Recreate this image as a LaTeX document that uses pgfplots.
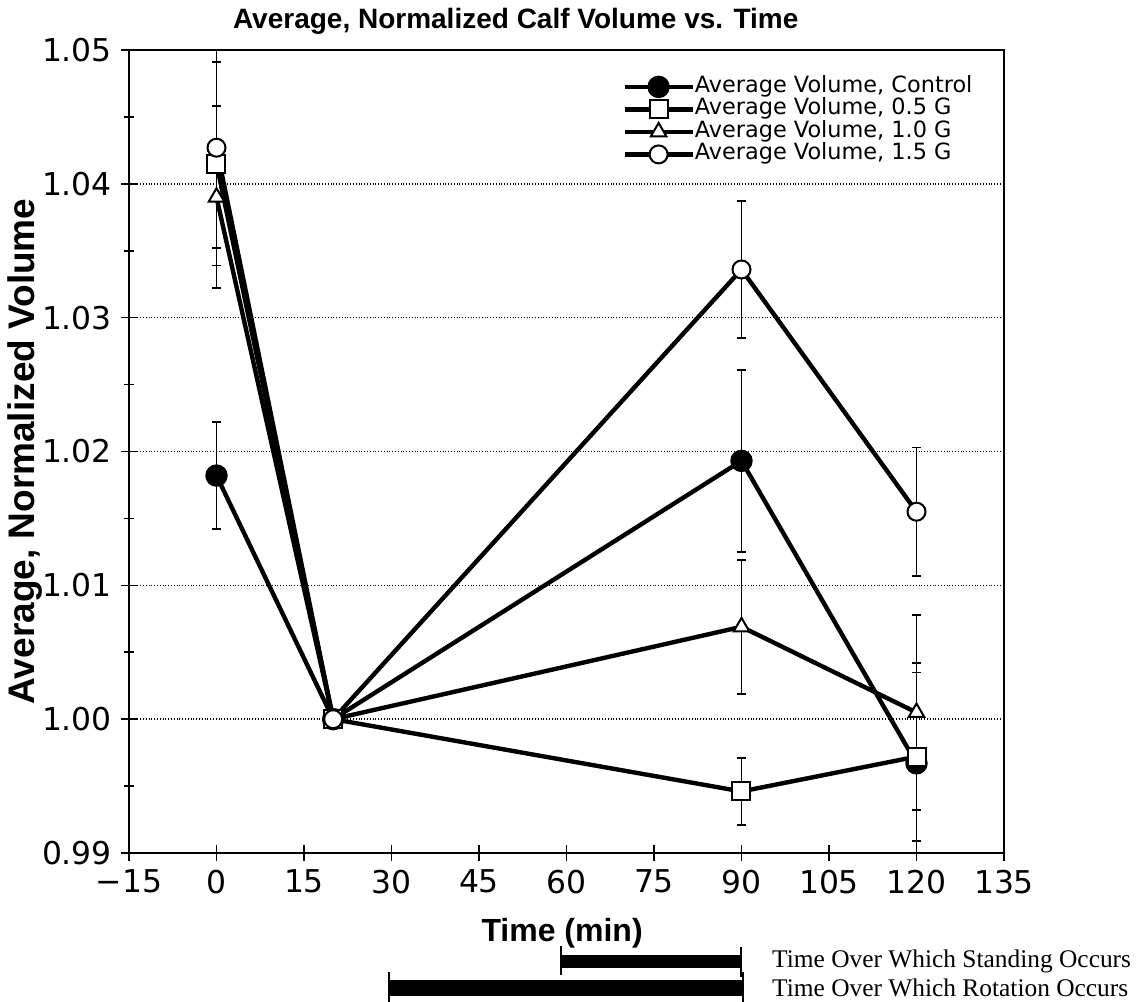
\documentclass[border=0pt]{standalone}
\usepackage{fontspec}
\usepackage{pgfplots}
\pgfplotsset{compat=1.18}
\setmainfont{Liberation Sans}
\newfontfamily\geneva{DejaVu Sans}
\newfontfamily\timesfont{Liberation Serif}

\begin{document}
\begin{tikzpicture}
% page = 1142 x 1002 px at 0.5pt per px, origin at the lower left of the plot area
\useasboundingbox (-64.5pt,-74.5pt) rectangle (506.5pt,426.5pt);
\begin{axis}[
  at={(0,0)}, anchor=south west,
  scale only axis,
  width=437.5pt, height=401.5pt,
  xmin=-15, xmax=135, ymin=0.99, ymax=1.05,
  xtick={-15,0,15,30,45,60,75,90,105,120,135},
  xticklabels={−15,0,15,30,45,60,75,90,105,120,135},
  ytick={0.99,1.00,1.01,1.02,1.03,1.04,1.05},
  yticklabels={0.99,1.00,1.01,1.02,1.03,1.04,1.05},
  minor ytick={0.995,1.005,1.015,1.025,1.035,1.045},
  xtick pos=bottom, ytick pos=left,
  tick align=center,
  major tick length=8pt,
  minor tick length=5pt,
  tick style={line width=0.8pt, black},
  axis line style={line width=1pt},
  ticklabel style={font=\geneva\fontsize{15.7}{18}\selectfont},
  yticklabel style={xshift=-1pt},
  xticklabel style={yshift=-1pt},
  ymajorgrids,
  grid style={densely dotted, line width=0.7pt, black},
  title={Average, Normalized Calf Volume vs. Time},
  title style={at={(axis description cs:0.442,1)}, anchor=center, yshift=8.5pt,
    font=\bfseries\fontsize{14}{16}\selectfont},
  xlabel={Time (min)},
  xlabel style={at={(axis description cs:0.495,0)}, anchor=center, yshift=-40pt,
    font=\bfseries\fontsize{16}{18}\selectfont},
  ylabel={Average, Normalized Volume},
  ylabel style={at={(axis description cs:-0.119,0.5)}, anchor=center,
    font=\bfseries\fontsize{18.5}{20}\selectfont},
  clip=false,
  every axis plot/.append style={line width=2.2pt, black, mark size=4.5pt,
    mark options={solid, line width=1pt, draw=black, fill=white}},
  error bars/error bar style={line width=0.8pt, black},
  error bars/error mark options={rotate=90, line width=0.8pt, mark size=2.25pt, black},
  legend image code/.code={\draw[mark repeat=2, mark phase=2, #1]
    plot coordinates {(0pt,0pt) (17pt,0pt) (34pt,0pt)};},
  legend style={draw=none, fill=none, at={(rel axis cs:0.5566,0.9726)}, anchor=north west,
    font=\geneva\fontsize{11.2}{12}\selectfont, row sep=0.75pt,
    nodes={inner sep=0pt, text height=8pt, text depth=2.5pt},
    /tikz/every even column/.append style={column sep=4pt}},
  legend cell align=left,
  errs/.style={forget plot, draw=none, mark=none,
    error bars/.cd, y dir=both, y explicit},
]
% error bars first, so that the markers sit on top of them
\addplot[errs] coordinates {
  (0,1.0182) +- (0,0.0040)
  (90,1.0193) +- (0,0.0068)
  (120,0.9967) += (0,0.0075) -= (0,0.0067)
};
\addplot[errs] coordinates {
  (0,1.0415) +- (0,0.0076)
  (90,0.9946) +- (0,0.0025)
  (120,0.9972) +- (0,0.0063)
};
\addplot[errs] coordinates {
  (0,1.0390) +- (0,0.0068)
  (90,1.0069) +- (0,0.0050)
  (120,1.0005) +- (0,0.0073)
};
\addplot[errs] coordinates {
  (0,1.0427) += (0,0.0073) -= (0,0.0075)
  (90,1.0336) +- (0,0.0051)
  (120,1.0155) +- (0,0.0048)
};

% Control
\addplot[black, mark=*, mark options={fill=black}] coordinates {
  (0,1.0182) (20,1.0000) (90,1.0193) (120,0.9967)
};
% 0.5 G
\addplot[black, mark=square*] coordinates {
  (0,1.0415) (20,1.0000) (90,0.9946) (120,0.9972)
};
% 1.0 G
\addplot[black, mark=triangle*] coordinates {
  (0,1.0390) (20,1.0000) (90,1.0069) (120,1.0005)
};
% 1.5 G
\addplot[black, mark=*] coordinates {
  (0,1.0427) (20,1.0000) (90,1.0336) (120,1.0155)
};
\legend{{Average Volume, Control},{Average Volume, 0.5 G},{Average Volume, 1.0 G},{Average Volume, 1.5 G}}

% bars under the axis: standing and rotation periods
\addplot[forget plot, mark=none, line width=6.5pt] coordinates {(59,0.98193) (90,0.98193)};
\addplot[forget plot, mark=none, line width=1pt] coordinates {(59,0.98305) (59,0.98088)};
\addplot[forget plot, mark=none, line width=1pt] coordinates {(90,0.98298) (90,0.98073)};
\addplot[forget plot, mark=none, line width=8.3pt] coordinates {(29.5,0.97991) (90.3,0.97991)};
\addplot[forget plot, mark=none, line width=1pt] coordinates {(29.5,0.98111) (29.5,0.97887)};
\addplot[forget plot, mark=none, line width=1pt] coordinates {(90.3,0.98111) (90.3,0.97887)};
\node[anchor=west, inner sep=0pt, font=\timesfont\fontsize{12.7}{14}\selectfont]
  at (axis cs:95.2,0.98193) {Time Over Which Standing Occurs};
\node[anchor=west, inner sep=0pt, font=\timesfont\fontsize{12.7}{14}\selectfont]
  at (axis cs:95.2,0.97991) {Time Over Which Rotation Occurs};
\end{axis}
\end{tikzpicture}
\end{document}
